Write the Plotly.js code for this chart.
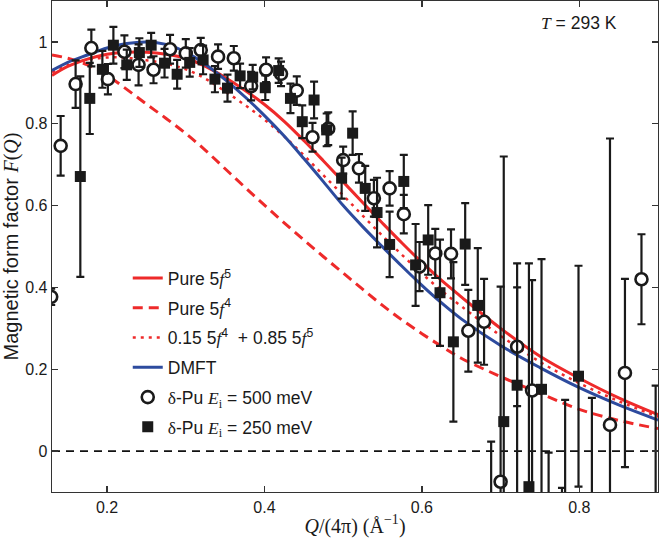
<!DOCTYPE html>
<html>
<head>
<meta charset="utf-8">
<script src="https://cdn.plot.ly/plotly-3.0.1.min.js"></script>
<style>html,body{margin:0;padding:0;background:#fff;}#chart{width:660px;height:542px;}</style>
</head>
<body>
<div id="chart"></div>
<script>
// Model curves
const qCurve = [0.13,0.15,0.175,0.2,0.225,0.25,0.275,0.3,0.325,0.35,0.375,0.4,0.425,0.45,0.475,0.5,0.525,0.55,0.575,0.6,0.625,0.65,0.7,0.75,0.8,0.85,0.9];
const pure5f5 = [0.918,0.940,0.958,0.970,0.975,0.975,0.970,0.960,0.940,0.913,0.882,0.847,0.806,0.759,0.709,0.658,0.607,0.557,0.508,0.461,0.417,0.377,0.300,0.232,0.178,0.130,0.089];
const pure5f4 = [0.968,0.960,0.944,0.918,0.884,0.848,0.813,0.776,0.735,0.690,0.645,0.601,0.558,0.516,0.475,0.435,0.395,0.356,0.320,0.287,0.256,0.227,0.182,0.141,0.102,0.075,0.055];
const mix = [0.926,0.943,0.956,0.962,0.961,0.955,0.947,0.933,0.910,0.879,0.846,0.810,0.769,0.723,0.674,0.625,0.575,0.526,0.479,0.434,0.392,0.354,0.282,0.218,0.166,0.122,0.084];
const dmft = [0.930,0.950,0.968,0.985,0.996,1.000,0.994,0.975,0.945,0.908,0.866,0.820,0.770,0.715,0.658,0.600,0.548,0.499,0.451,0.405,0.362,0.323,0.258,0.204,0.155,0.113,0.076];

// δ-Pu Ei = 500 meV (open circles)
const q500 = [0.129,0.141,0.160,0.180,0.201,0.222,0.240,0.259,0.280,0.300,0.319,0.341,0.361,0.383,0.402,0.421,0.441,0.461,0.481,0.500,0.520,0.539,0.559,0.577,0.597,0.617,0.637,0.659,0.679,0.700,0.721,0.740,0.761,0.778,0.839,0.858,0.879];
const f500 = [0.377,0.746,0.897,0.985,0.909,0.976,0.944,0.932,0.982,0.972,0.980,0.964,0.960,0.892,0.932,0.922,0.881,0.767,0.788,0.711,0.691,0.618,0.642,0.579,0.451,0.483,0.482,0.294,0.316,-0.075,0.255,0.148,-0.160,-0.200,0.064,0.191,0.420];
const e500 = [0.020,0.073,0.058,0.045,0.037,0.040,0.050,0.033,0.035,0.035,0.030,0.030,0.030,0.035,0.030,0.030,0.035,0.035,0.040,0.033,0.035,0.045,0.042,0.047,0.060,0.060,0.060,0.100,0.105,0.477,0.145,0.270,0.156,0.110,0.700,0.230,0.110];

// δ-Pu Ei = 250 meV (filled squares)
const q250 = [0.166,0.178,0.194,0.208,0.225,0.241,0.256,0.273,0.289,0.305,0.322,0.337,0.353,0.369,0.385,0.401,0.418,0.433,0.448,0.463,0.479,0.498,0.512,0.528,0.543,0.559,0.577,0.592,0.608,0.623,0.640,0.655,0.671,0.688,0.704,0.721,0.736,0.752,0.782,0.799,0.816,0.897];
const f250 = [0.671,0.862,0.933,0.992,0.944,0.974,0.992,0.948,0.921,0.950,0.956,0.909,0.887,0.917,0.914,0.888,0.930,0.862,0.805,0.858,0.785,0.667,0.777,0.642,0.583,0.505,0.659,0.455,0.516,0.387,0.267,0.506,0.356,-0.200,0.072,0.161,-0.087,0.151,-0.150,0.183,-0.150,-0.160];
const e250 = [0.245,0.087,0.045,0.045,0.037,0.035,0.030,0.035,0.035,0.035,0.035,0.032,0.033,0.030,0.030,0.030,0.030,0.036,0.040,0.045,0.040,0.050,0.053,0.055,0.085,0.080,0.065,0.100,0.085,0.130,0.195,0.100,0.140,0.223,0.648,0.298,0.546,0.318,0.275,0.270,0.280,0.320];

const xTicks = [0.2,0.4,0.6,0.8];
const yTicks = [0,0.2,0.4,0.6,0.8,1];

const RED = '#ee2a2a', BLUE = '#2d4b9e', INK = '#1a1a1a';
const SERIF = "font-family:'Liberation Serif','DejaVu Serif',serif";
const it = s => `<span style="${SERIF};font-style:italic">${s}</span>`;
const sf = s => `<span style="${SERIF}">${s}</span>`;

const traces = [
  {x:qCurve, y:pure5f5, mode:'lines', name:'Pure 5'+it('f')+'<sup>5</sup>', legendgroup:'a',
   line:{color:RED, width:3, shape:'spline'}},
  {x:qCurve, y:pure5f4, mode:'lines', name:'Pure 5'+it('f')+'<sup>4</sup>', legendgroup:'b',
   line:{color:RED, width:3, dash:'10px,6px', shape:'spline'}},
  {x:qCurve, y:mix, mode:'lines', name:'0.15 5'+it('f')+'<sup>4</sup>  + 0.85 5'+it('f')+'<sup>5</sup>', legendgroup:'c',
   line:{color:RED, width:2.5, dash:'3px,5px', shape:'spline'}},
  {x:qCurve, y:dmft, mode:'lines', name:'DMFT', legendgroup:'d',
   line:{color:BLUE, width:3, shape:'spline'}},
  {x:q500, y:f500, mode:'markers', name:sf('δ')+'-Pu '+it('E')+'<sub>'+sf('i')+'</sub> = 500 meV', legendgroup:'e',
   marker:{symbol:'circle', size:12, color:'#ffffff', line:{color:INK, width:2.6}},
   error_y:{type:'data', array:e500, visible:true, color:INK, thickness:2.2, width:4}},
  {x:q250, y:f250, mode:'markers', name:sf('δ')+'-Pu '+it('E')+'<sub>'+sf('i')+'</sub> = 250 meV', legendgroup:'f',
   marker:{symbol:'square', size:11, color:INK, line:{width:0}},
   error_y:{type:'data', array:e250, visible:true, color:INK, thickness:2.2, width:4}}
];

const layout = {
  width:660, height:542,
  margin:{l:52, r:2, t:1, b:50},
  paper_bgcolor:'#fff', plot_bgcolor:'#fff',
  font:{family:"'Liberation Sans', Arial, sans-serif", size:15, color:INK},
  showlegend:true,
  legend:{x:0.125, y:0.472, xanchor:'left', yanchor:'top', bgcolor:'rgba(0,0,0,0)',
          font:{size:17.5}, tracegroupgap:4},
  xaxis:{range:[0.13,0.9], tickvals:xTicks, ticktext:xTicks.map(String), ticks:'inside', ticklen:6,
         tickwidth:1.2, tickcolor:'#333', showline:true, linecolor:'#333', linewidth:1.3, mirror:'ticks',
         showgrid:false, zeroline:false, tickfont:{size:16},
         title:{text:`<span style="${SERIF}">${it('Q')}/(4π) (Å<sup>−1</sup>)</span>`, font:{size:20}, standoff:4}},
  yaxis:{range:[-0.1,1.1], tickvals:yTicks, ticktext:yTicks.map(String), ticks:'inside', ticklen:6,
         tickwidth:1.2, tickcolor:'#333', showline:true, linecolor:'#333', linewidth:1.3, mirror:'ticks',
         showgrid:false, zeroline:false, tickfont:{size:16},
         title:{text:'Magnetic form factor '+it('F')+sf('(')+it('Q')+sf(')'), font:{size:20}, standoff:2}},
  shapes:[{type:'line', xref:'paper', x0:0, x1:1, yref:'y', y0:0, y1:0, layer:'below',
           line:{color:'#111', width:1.6, dash:'8px,6px'}}],
  annotations:[{xref:'paper', yref:'paper', x:0.87, y:0.955, xanchor:'center', yanchor:'middle', showarrow:false,
                text:it('T')+' = 293 K', font:{size:17.5}}]
};

Plotly.newPlot('chart', traces, layout, {displayModeBar:false, staticPlot:true});
</script>
</body>
</html>
